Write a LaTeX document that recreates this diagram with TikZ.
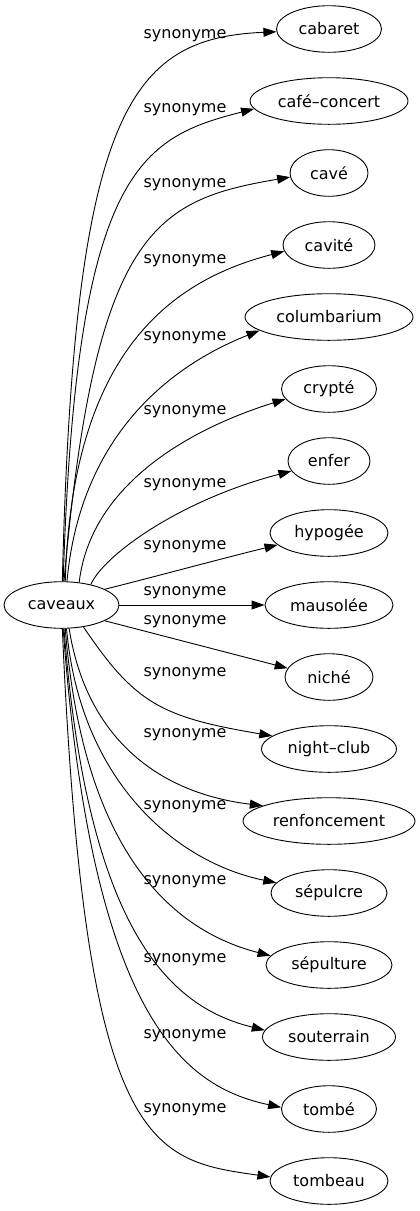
\documentclass[tikz,border=0pt]{standalone}
\usepackage{fontspec}
\setmainfont{DejaVu Sans}
\usetikzlibrary{arrows.meta,shapes.geometric}
\begin{document}
\begin{tikzpicture}[x=1pt,y=-1pt,
  every node/.style={font=\fontsize{16}{19}\selectfont},
  term/.style={draw, ellipse, inner sep=0pt, minimum height=46.6pt, line width=0.9pt},
  rel/.style={line width=0.9pt, -{Triangle[length=13pt,width=9pt]}},
  lbl/.style={inner sep=0pt}]
\useasboundingbox (0,0) rectangle (420,1211);
\node[term, minimum width=115pt] (caveaux) at (61.5,605) {caveaux};
\node[term, minimum width=105pt] (cabaret) at (329,29) {cabaret};
\node[term, minimum width=158pt] (cafeconcert) at (329,101) {café–concert};
\node[term, minimum width=78pt] (cave) at (329,173) {cavé};
\node[term, minimum width=92pt] (cavite) at (329,245) {cavité};
\node[term, minimum width=168pt] (columbarium) at (329,317) {columbarium};
\node[term, minimum width=95pt] (crypte) at (329,389) {crypté};
\node[term, minimum width=82pt] (enfer) at (329,461) {enfer};
\node[term, minimum width=118pt] (hypogee) at (329,533) {hypogée};
\node[term, minimum width=128pt] (mausolee) at (329,605) {mausolée};
\node[term, minimum width=88pt] (niche) at (329,677) {niché};
\node[term, minimum width=135pt] (nightclub) at (329,749) {night–club};
\node[term, minimum width=172pt] (renfoncement) at (329,821) {renfoncement};
\node[term, minimum width=116pt] (sepulcre) at (329,893) {sépulcre};
\node[term, minimum width=126pt] (sepulture) at (329,965) {sépulture};
\node[term, minimum width=133pt] (souterrain) at (329,1037) {souterrain};
\node[term, minimum width=95pt] (tombe) at (329,1109) {tombé};
\node[term, minimum width=118pt] (tombeau) at (329,1181) {tombeau};

\node[lbl] (l1) at (185,36) {synonyme};
\node[lbl] (l2) at (185,110) {synonyme};
\node[lbl] (l3) at (185,185) {synonyme};
\node[lbl] (l4) at (185,261) {synonyme};
\node[lbl] (l5) at (185,338) {synonyme};
\node[lbl] (l6) at (185,412) {synonyme};
\node[lbl] (l7) at (185,485) {synonyme};
\node[lbl] (l8) at (185,547) {synonyme};
\node[lbl] (l9) at (185,593) {synonyme};
\node[lbl] (l10) at (185,622) {synonyme};
\node[lbl] (l11) at (185,674) {synonyme};
\node[lbl] (l12) at (185,735) {synonyme};
\node[lbl] (l13) at (185,807) {synonyme};
\node[lbl] (l14) at (185,882) {synonyme};
\node[lbl] (l15) at (185,960) {synonyme};
\node[lbl] (l16) at (185,1036) {synonyme};
\node[lbl] (l17) at (185,1110) {synonyme};

\draw[rel] (caveaux.88) .. controls (74,110) and (130,38) .. (cabaret.183);
\draw[rel] (caveaux.86) .. controls (76,170) and (140,138) .. (cafeconcert.186);
\draw[rel] (caveaux.84) .. controls (95,230) and (155,200) .. (cave.186);
\draw[rel] (caveaux.81) .. controls (72,350) and (173,280) .. (cavite.188);
\draw[rel] (caveaux.77) .. controls (80,440) and (165,368) .. (columbarium.191);
\draw[rel] (caveaux.52) .. controls (90,490) and (180,432) .. (crypte.193);
\draw[rel] (caveaux.35) .. controls (104,555) and (180,500) .. (enfer.195);
\draw[rel] (caveaux.20) .. controls (150,578) and (220,559) .. (hypogee.193);
\draw[rel] (caveaux) -- (mausolee);
\draw[rel] (caveaux.-20) -- (niche.168);
\draw[rel] (caveaux.-45) .. controls (135,703) and (160,717) .. (nightclub.167);
\draw[rel] (caveaux.-72) .. controls (85,730) and (150,792) .. (renfoncement.167);
\draw[rel] (caveaux.-78) .. controls (80,780) and (175,862) .. (sepulcre.169);
\draw[rel] (caveaux.-81) .. controls (84,860) and (178,932) .. (sepulture.171);
\draw[rel] (caveaux.-84) .. controls (88,940) and (175,1008) .. (souterrain.174);
\draw[rel] (caveaux.-86) .. controls (92,1020) and (185,1087) .. (tombe.178);
\draw[rel] (caveaux.-88) .. controls (85,1150) and (150,1160) .. (tombeau.176);
\end{tikzpicture}
\end{document}
